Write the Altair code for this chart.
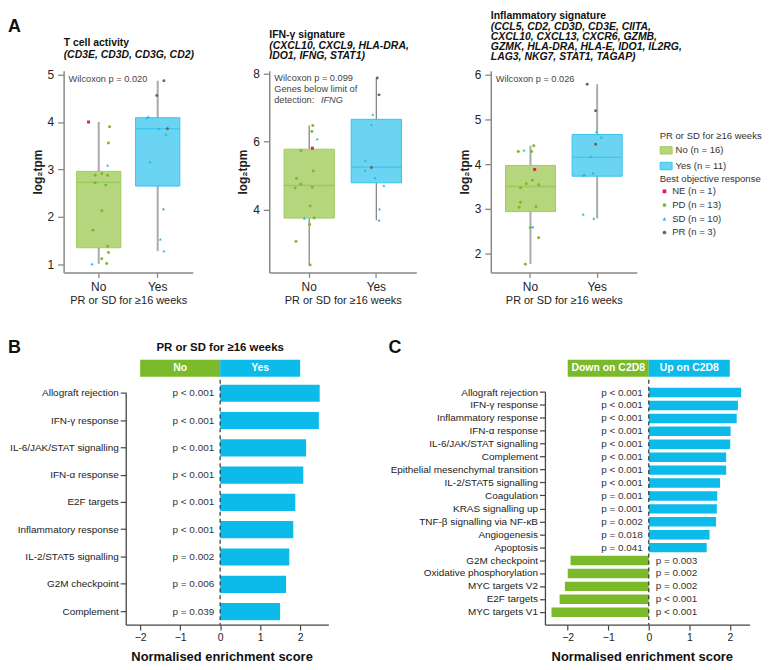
import altair as alt
import pandas as pd

FONT = "Liberation Sans"
GREEN = "#7ab929"
BLUE = "#0dbbeb"
NO_FILL = "#b6d67e"
NO_EDGE = "#a2cc62"
NO_MED = "#8ec54a"
YES_FILL = "#6bd4f2"
YES_EDGE = "#36c2ee"
YES_MED = "#2fbfea"
TXT = "#333333"

# ---------------- Panel A data ----------------
groups = ["No", "Yes"]
fill_labels = ["No (n = 16)", "Yes (n = 11)"]
bor_codes = ["NE", "PD", "SD", "PR"]
bor_labels = ["NE (n = 1)", "PD (n = 13)", "SD (n = 10)", "PR (n = 3)"]
bor_colors = ["#e8175d", "#7ab929", "#1bb8e8", "#666666"]
bor_shapes = ["square", "circle", "triangle-up", "circle"]

# T cell activity
a1_grp = ["No"] * 16 + ["Yes"] * 11
a1_val = [4.00, 3.90, 3.56, 3.09, 2.88, 2.91, 2.88, 2.72, 2.67, 2.13, 1.72, 1.38, 1.25, 1.12, 1.02, 1.01,
          4.87, 4.56, 4.11, 4.09, 3.86, 3.86, 3.74, 3.16, 2.17, 1.53, 1.28]
a1_bor = ["NE", "PD", "PD", "SD", "PD", "PD", "PD", "PD", "PD", "PD", "PD", "PD", "PD", "PD", "PD", "SD",
          "PR", "PR", "SD", "SD", "SD", "PR", "SD", "SD", "SD", "SD", "SD"]
a1_jit = [-0.23, 0.245, 0.22, 0.20, -0.08, 0.07, 0.20, -0.08, 0.16, 0.07, -0.13, 0.20, 0.22, 0.07, 0.18, -0.15,
          0.14, -0.02, -0.21, -0.24, 0.03, 0.22, 0.19, -0.17, 0.13, 0.06, 0.14]
a1_lo = [1.01, 1.28]
a1_q1 = [1.35, 2.65]
a1_med = [2.73, 3.86]
a1_q3 = [2.96, 4.09]
a1_hi = [4.00, 4.87]

# IFN-gamma signature
a2_grp = ["No"] * 16 + ["Yes"] * 11
a2_val = [6.48, 6.30, 6.08, 5.81, 5.74, 5.14, 4.92, 4.75, 4.64, 4.66, 4.11, 3.75, 3.75, 3.56, 3.06, 2.37,
          7.88, 7.38, 6.80, 6.50, 5.45, 5.16, 5.24, 4.94, 4.71, 4.02, 3.69]
a2_bor = ["PD", "PD", "SD", "NE", "PD", "PD", "PD", "PD", "PD", "PD", "PD", "SD", "PD", "PD", "PD", "PD",
          "PR", "PR", "SD", "SD", "SD", "SD", "PR", "SD", "SD", "SD", "SD"]
a2_jit = [0.15, 0.13, 0.25, 0.14, -0.12, 0.16, -0.22, -0.12, -0.25, 0.14, 0.09, -0.04, 0.18, 0.08, -0.23, 0.09,
          0.09, 0.13, -0.01, -0.04, -0.18, -0.18, -0.04, 0.04, 0.24, 0.14, 0.13]
a2_lo = [2.37, 3.69]
a2_q1 = [3.75, 4.79]
a2_med = [4.71, 5.25]
a2_q3 = [5.78, 6.66]
a2_hi = [6.48, 7.88]

# Inflammatory signature
a3_grp = ["No"] * 16 + ["Yes"] * 11
a3_val = [4.28, 4.31, 4.28, 4.41, 3.88, 3.64, 3.56, 3.54, 3.47, 3.15, 3.04, 3.05, 2.58, 2.60, 2.36, 1.77,
          5.78, 5.19, 4.72, 4.60, 4.44, 4.17, 3.80, 3.76, 3.75, 2.88, 2.79]
a3_bor = ["PD", "SD", "PD", "PD", "NE", "PD", "PD", "PD", "PD", "PD", "PD", "PD", "PD", "SD", "PD", "PD",
          "PR", "PR", "SD", "SD", "PR", "SD", "SD", "SD", "SD", "SD", "SD"]
a3_jit = [-0.21, -0.08, 0.09, 0.14, 0.16, 0.11, -0.03, 0.25, -0.16, -0.16, -0.19, 0.19, 0.06, 0.12, 0.25, -0.05,
          -0.16, 0.03, 0.05, 0.16, 0.03, -0.08, -0.03, -0.22, -0.25, -0.25, -0.01]
a3_lo = [1.77, 2.79]
a3_q1 = [2.94, 3.73]
a3_med = [3.50, 4.15]
a3_q3 = [3.97, 4.66]
a3_hi = [4.41, 5.78]

# ---------------- Panel B / C data ----------------
b_paths = ["Allograft rejection", "IFN-γ response", "IL-6/JAK/STAT signalling", "IFN-α response",
           "E2F targets", "Inflammatory response", "IL-2/STAT5 signalling", "G2M checkpoint", "Complement"]
b_nes = [2.49, 2.47, 2.15, 2.08, 1.88, 1.83, 1.73, 1.65, 1.50]
b_p = ["p < 0.001"] * 6 + ["p = 0.002", "p = 0.006", "p = 0.039"]
b_hdr_labels = ["No", "Yes"]
b_hdr_start = [-2, 0]
b_hdr_end = [0, 2]

c_paths = ["Allograft rejection", "IFN-γ response", "Inflammatory response", "IFN-α response",
           "IL-6/JAK/STAT signalling", "Complement", "Epithelial mesenchymal transition",
           "IL-2/STAT5 signalling", "Coagulation", "KRAS signalling up", "TNF-β signalling via NF-κB",
           "Angiogenesis", "Apoptosis", "G2M checkpoint", "Oxidative phosphorylation", "MYC targets V2",
           "E2F targets", "MYC targets V1"]
c_nes = [2.28, 2.20, 2.17, 2.02, 2.01, 1.91, 1.91, 1.76, 1.69, 1.68, 1.66, 1.50, 1.43,
         -1.93, -2.00, -2.07, -2.20, -2.40]
c_p = ["p < 0.001"] * 8 + ["p = 0.001", "p = 0.001", "p = 0.002", "p = 0.018", "p = 0.041",
                           "p = 0.003", "p = 0.002", "p = 0.002", "p < 0.001", "p < 0.001"]
c_hdr_labels = ["Down on C2D8", "Up on C2D8"]
c_hdr_start = [-2, 0]
c_hdr_end = [0, 2]

# ---------------- Panel A builder ----------------
PI, PO = 0.25, 0.22
HA = 203


def text_layer(txt, x, y, size, weight="normal", style="normal", color="#111", align="left"):
    return alt.Chart(pd.DataFrame({"t": [txt]})).mark_text(
        align=align, baseline="middle", fontSize=size, fontWeight=weight, fontStyle=style,
        color=color).encode(x=alt.value(x), y=alt.value(y), text="t:N")


def box_panel(grp, val, bor, jit, lo, q1, med, q3, hi, ydom, yticks, width, title, subtitle,
              notes, show_legend=False, whisk_color="#aaaaaa", whisk_w=2.0, panel_label=None):
    pts = pd.DataFrame({"grp": grp, "val": val,
                        "bor": [bor_labels[bor_codes.index(b)] for b in bor], "jit": jit})
    box = pd.DataFrame({"grp": groups, "lab": fill_labels, "lo": lo, "q1": q1, "med": med, "q3": q3, "hi": hi})
    step = width / (2 - PI + 2 * PO)
    bw = step * (1 - PI)

    xs = alt.Scale(domain=groups, paddingInner=PI, paddingOuter=PO)
    ys = alt.Scale(domain=ydom, nice=False, zero=False)
    xax = alt.Axis(title="PR or SD for ≥16 weeks", labelAngle=0, labelFontSize=12, labelColor="#222",
                   titleFontSize=11, titleFontWeight="normal", titleColor="#222", titlePadding=2,
                   tickSize=5, labelPadding=4, domainColor="#888", tickColor="#888", domainWidth=1.5,
                   tickWidth=1.3)
    yax = alt.Axis(title="log₂tpm", values=yticks, labelFontSize=12, labelColor="#222", titleFontSize=12,
                   titleFontWeight="bold", titleColor="#222", titlePadding=3, tickSize=6, labelPadding=4,
                   domainColor="#888", tickColor="#888", domainWidth=1.5, tickWidth=1.3, grid=False)

    base = alt.Chart(box).encode(x=alt.X("grp:N", scale=xs, axis=xax))
    whisk = base.mark_rule(color=whisk_color, strokeWidth=whisk_w).encode(
        y=alt.Y("lo:Q", scale=ys, axis=yax), y2="hi:Q")
    if show_legend:
        fleg = alt.Legend(title="PR or SD for ≥16 weeks", orient="none", legendX=width + 23, legendY=61,
                          symbolType="M-1,-0.62H1V0.62H-1Z", symbolSize=144, symbolStrokeWidth=1,
                          labelFontSize=9.6, titleFontSize=9.6, titleFontWeight="normal", labelColor=TXT,
                          titleColor=TXT, titlePadding=3, rowPadding=2.8, labelOffset=3, padding=0)
        cleg = alt.Legend(title="Best objective response", orient="none", legendX=width + 23, legendY=104,
                          symbolSize=14, labelFontSize=9.6, titleFontSize=9.6, titleFontWeight="normal",
                          labelColor=TXT, titleColor=TXT, titlePadding=3, rowPadding=2.8, labelOffset=3,
                          padding=0, symbolStrokeWidth=0)
    else:
        fleg = None
        cleg = None
    fs = alt.Scale(domain=fill_labels, range=[NO_FILL, YES_FILL])
    ss = alt.Scale(domain=fill_labels, range=[NO_EDGE, YES_EDGE])
    boxes = base.mark_bar(strokeWidth=1, width=bw).encode(
        y=alt.Y("q1:Q", scale=ys), y2="q3:Q",
        fill=alt.Fill("lab:N", scale=fs, legend=fleg),
        stroke=alt.Stroke("lab:N", scale=ss, legend=fleg))
    meds = base.mark_tick(thickness=1.3, size=bw).encode(
        y=alt.Y("med:Q", scale=ys),
        color=alt.condition("datum.grp == 'No'", alt.value(NO_MED), alt.value(YES_MED)))
    cs = alt.Scale(domain=bor_labels, range=bor_colors)
    shs = alt.Scale(domain=bor_labels, range=bor_shapes)
    points = alt.Chart(pts).mark_point(filled=True, size=9, opacity=1).encode(
        x=alt.X("grp:N", scale=xs),
        xOffset=alt.XOffset("jit:Q", scale=alt.Scale(domain=[-0.5, 0.5], range=[0, bw])),
        y=alt.Y("val:Q", scale=ys),
        color=alt.Color("bor:N", scale=cs, legend=cleg),
        shape=alt.Shape("bor:N", scale=shs, legend=cleg))
    layers = [whisk, boxes, meds, points]
    for (txt, yy, xx, style) in notes:
        layers.append(text_layer(txt, xx, yy, 9.3, style=style, color="#444"))
    if panel_label:
        layers.append(text_layer(title, 0, -28, 10.5, weight="bold"))
        for i, s in enumerate(subtitle):
            layers.append(text_layer(s, 0, -16 + 10.3 * i, 10.5, weight="bold", style="italic"))
        ttl = alt.TitleParams(text=panel_label, anchor="start", frame="group", fontSize=18,
                              fontWeight="bold", color="#111", dx=-56, offset=2)
    else:
        ttl = alt.TitleParams(text=title, subtitle=subtitle, anchor="start", frame="group",
                              fontSize=10.5, fontWeight="bold", color="#111",
                              subtitleFontSize=10.5, subtitleFontWeight="bold", subtitleFontStyle="italic",
                              subtitleColor="#111", subtitleLineHeight=10.2, subtitlePadding=0.5,
                              lineHeight=10.5, offset=6)
    return alt.layer(*layers).properties(width=width, height=HA, title=ttl)


A1 = box_panel(a1_grp, a1_val, a1_bor, a1_jit, a1_lo, a1_q1, a1_med, a1_q3, a1_hi,
               [0.83, 5.08], [1, 2, 3, 4, 5], 130, "T cell activity", ["(CD3E, CD3D, CD3G, CD2)"],
               [("Wilcoxon p = 0.020", 8, 5, "normal")], panel_label="A")
A2 = box_panel(a2_grp, a2_val, a2_bor, a2_jit, a2_lo, a2_q1, a2_med, a2_q3, a2_hi,
               [2.15, 8.09], [4, 6, 8], 148, "IFN-γ signature",
               ["(CXCL10, CXCL9, HLA-DRA,", "IDO1, IFNG, STAT1)"],
               [("Wilcoxon p = 0.099", 7, 5, "normal"), ("Genes below limit of", 18, 5, "normal"),
                ("detection:", 29, 5, "normal"), ("IFNG", 29, 52, "italic")],
               whisk_color="#888888", whisk_w=1.3)
A3 = box_panel(a3_grp, a3_val, a3_bor, a3_jit, a3_lo, a3_q1, a3_med, a3_q3, a3_hi,
               [1.585, 6.08], [2, 3, 4, 5, 6], 147, "Inflammatory signature",
               ["(CCL5, CD2, CD3D, CD3E, CIITA,", "CXCL10, CXCL13, CXCR6, GZMB,",
                "GZMK, HLA-DRA, HLA-E, IDO1, IL2RG,", "LAG3, NKG7, STAT1, TAGAP)"],
               [("Wilcoxon p = 0.026", 8, 5, "normal")], show_legend=True)

top = alt.hconcat(A1, A2, A3, spacing=42).resolve_scale(
    fill="independent", stroke="independent", color="independent", shape="independent")

# ---------------- Panels B / C builder ----------------
HB = 247


def nes_panel(paths, nes, pvals, hdr_labels, hdr_start, hdr_end, xdom, width, pi, po, label,
              label_x, head_title=None, lead=0):
    """lead: extra pixels of plot area to the left of the axis (used to line up the rows)."""
    df = pd.DataFrame({"path": paths, "nes": nes, "p": pvals})
    hdr = pd.DataFrame({"lab": hdr_labels, "start": hdr_start, "end": hdr_end})
    xmin, xmax = xdom
    ext = lead * (xmax - xmin) / width
    xs = alt.Scale(domain=[xmin - ext, xmax], nice=False, zero=False)
    W = width + lead

    hrect = alt.Chart(hdr).mark_rect().encode(
        x=alt.X("start:Q", scale=xs, axis=None), x2="end:Q", y=alt.value(0), y2=alt.value(17),
        color=alt.condition("datum.start < 0", alt.value(GREEN), alt.value(BLUE)))
    htext = alt.Chart(hdr).transform_calculate(mid="(datum.start + datum.end) / 2").mark_text(
        color="white", fontWeight="bold", fontSize=10.5, baseline="middle").encode(
        x=alt.X("mid:Q", scale=xs, axis=None), y=alt.value(8.5), text="lab:N")
    hl = [hrect, htext, text_layer(label, label_x + lead, -12, 18, weight="bold")]
    if head_title:
        hl.append(alt.Chart(pd.DataFrame({"t": [head_title]})).mark_text(
            align="center", baseline="middle", fontSize=11.5, fontWeight="bold", color="#111").encode(
            x=alt.datum(0, scale=xs), y=alt.value(-12), text="t:N"))
    head = alt.layer(*hl).properties(width=W, height=17)

    yax = alt.Axis(title=None, domain=False, tickSize=6, labelPadding=2, labelFontSize=10,
                   labelColor="#222", tickColor="#444", tickWidth=1.2, labelLimit=300, offset=-lead)
    ys = alt.Scale(domain=paths, paddingInner=pi, paddingOuter=po)
    xax = alt.Axis(title="Normalised enrichment score", values=[-2, -1, 0, 1, 2], grid=False,
                   labelFontSize=10.5, labelColor="#222", titleFontSize=13, titleFontWeight="bold",
                   titleColor="#111", titlePadding=7, tickSize=5, labelPadding=3, domain=False,
                   tickColor="#444", tickWidth=1.2, titleX=lead + width / 2 - 6)
    bars = alt.Chart(df).mark_bar().encode(
        x=alt.X("nes:Q", scale=xs, axis=xax),
        y=alt.Y("path:N", scale=ys, sort=paths, axis=yax),
        color=alt.condition("datum.nes > 0", alt.value(BLUE), alt.value(GREEN)))
    one = alt.Chart(df).transform_aggregate(n="count()")
    zero = one.mark_rule(color="#333", strokeDash=[4, 3], strokeWidth=1.2).encode(
        x=alt.datum(0, scale=xs))
    spine = one.mark_rule(color="#444", strokeWidth=1.3).encode(
        x=alt.datum(xmin, scale=xs), y=alt.datum(paths[0], scale=ys), y2=alt.value(HB))
    xline = one.mark_rule(color="#444", strokeWidth=1.3).encode(
        x=alt.datum(xmin, scale=xs), x2=alt.datum(xmax), y=alt.value(HB))
    ptxt_pos = alt.Chart(df).transform_filter("datum.nes > 0").mark_text(
        align="right", baseline="middle", dx=-6, fontSize=10, color=TXT).encode(
        x=alt.datum(0, scale=xs), y=alt.Y("path:N", scale=ys, sort=paths), text="p:N")
    ptxt_neg = alt.Chart(df).transform_filter("datum.nes < 0").mark_text(
        align="left", baseline="middle", dx=7, fontSize=10, color=TXT).encode(
        x=alt.datum(0, scale=xs), y=alt.Y("path:N", scale=ys, sort=paths), text="p:N")
    main = alt.layer(bars, zero, spine, xline, ptxt_pos, ptxt_neg).properties(width=W, height=HB)
    return alt.vconcat(head, main, spacing=2)


B = nes_panel(b_paths, b_nes, b_p, b_hdr_labels, b_hdr_start, b_hdr_end, [-2.35, 2.72], 204,
              0.37, 0.18, "B", -119, head_title="PR or SD for ≥16 weeks", lead=63)
C = nes_panel(c_paths, c_nes, c_p, c_hdr_labels, c_hdr_start, c_hdr_end, [-2.55, 2.50], 206,
              0.27, 0.63, "C", -158)

bottom = alt.hconcat(B, C, spacing=59)

chart = alt.vconcat(top, bottom, spacing=34).properties(
    padding=0).configure(font=FONT).configure_view(stroke=None).configure_axis(
    labelFont=FONT, titleFont=FONT).configure_legend(labelFont=FONT, titleFont=FONT).configure_title(
    font=FONT, subtitleFont=FONT)

chart.save("out.html", embed_options={"renderer": "svg", "actions": False})
